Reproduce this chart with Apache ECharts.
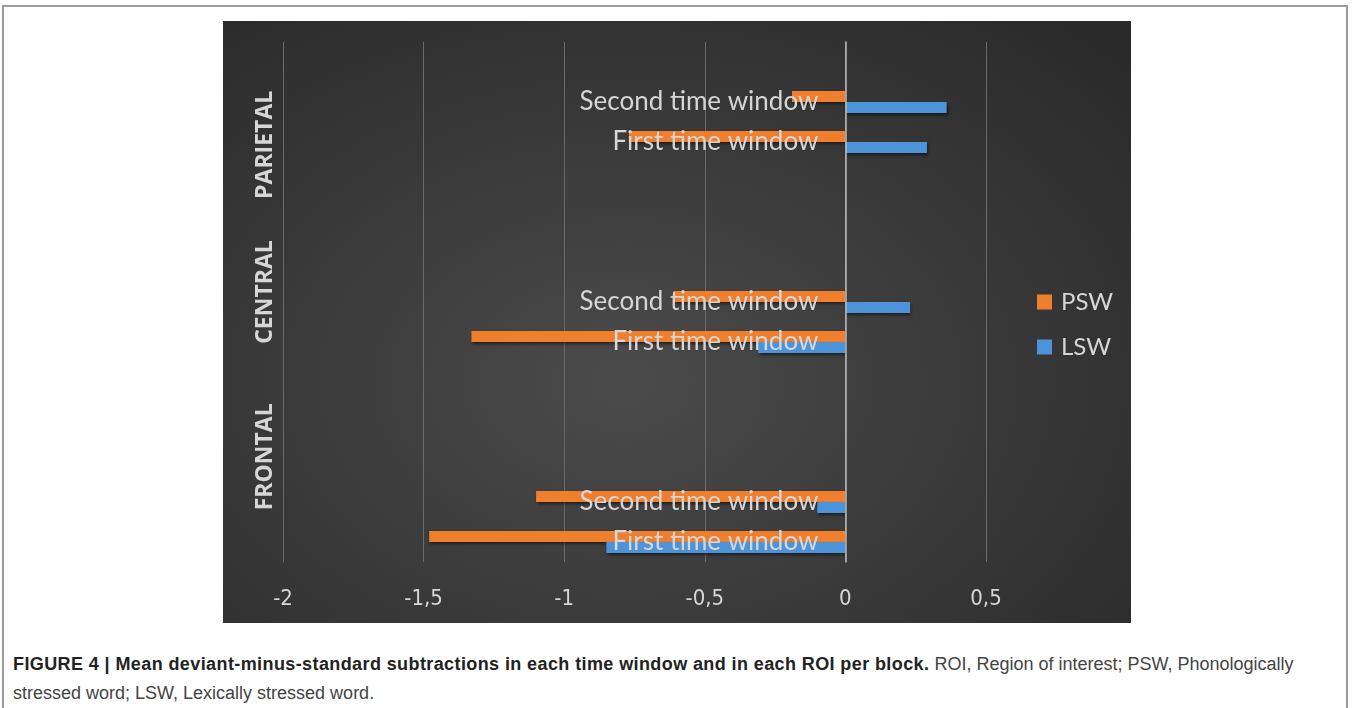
<!DOCTYPE html>
<html>
<head>
<meta charset="utf-8">
<script src="https://cdn.jsdelivr.net/npm/echarts@6/dist/echarts.min.js"></script>
<style>
  html, body { margin: 0; padding: 0; background: #fff; width: 1352px; height: 708px; overflow: hidden; }
  #frame { position: absolute; left: 2px; top: 5px; width: 1346px; height: 740px; border: 2px solid #9c9c9c; box-sizing: border-box; }
  #chart { position: absolute; left: 223px; top: 21px; width: 908px; height: 602px;
    background: radial-gradient(ellipse 75% 80% at 44% 60%, #4b4b4b 0%, #3c3c3c 45%, #2a2a2a 100%); }
  #caption { position: absolute; left: 13px; top: 650px; width: 1330px; font-family: "Liberation Sans", Arial, sans-serif;
    font-size: 18px; line-height: 29px; color: #444; white-space: nowrap; }
  #caption b { color: #222; letter-spacing: 0.4px; }
</style>
</head>
<body>
<div id="frame"></div>
<div id="chart"></div>
<div id="caption"><b>FIGURE 4 | Mean deviant-minus-standard subtractions in each time window and in each ROI per block.</b> ROI, Region of interest; PSW, Phonologically<br>stressed word; LSW, Lexically stressed word.</div>
<script>
// Regions of interest, bottom to top, and the two time windows inside each
const regions = ['FRONTAL', 'CENTRAL', 'PARIETAL'];
const windows = ['First time window', 'Second time window'];
// Mean deviant-minus-standard difference per region: [first window, second window]
const pswValues = [[-1.48, -1.10], [-1.33, -0.61], [-0.77, -0.19]];
const lswValues = [[-0.85, -0.10], [-0.31, 0.23], [0.29, 0.36]];
const seriesNames = ['PSW', 'LSW'];

// Each region occupies its two windows followed by empty spacer rows
const categories = [], psw = [], lsw = [];
regions.forEach((r, i) => {
  windows.forEach((w, j) => {
    categories.push(w);
    psw.push(pswValues[i][j]);
    lsw.push(lswValues[i][j]);
  });
  const spacers = i < regions.length - 1 ? 3 : 1;
  for (let k = 0; k < spacers; k++) { categories.push(''); psw.push(null); lsw.push(null); }
});

// Where each region name sits along the row scale (rows counted from the bottom)
const regionLabelAt = [2.63, 6.75, 10.43];

const xMin = -2, xMax = 0.5;
const gridBox = { left: 60, right: 145, top: 21, bottom: 61 };
const chartEl = document.getElementById('chart');
const plotWidth = chartEl.clientWidth - gridBox.left - gridBox.right;
// The category axis crosses the value axis at zero, its labels travel with it
const zeroShift = -plotWidth * (0 - xMin) / (xMax - xMin);

const textColor = '#d6d6d6';
const labelFont = 'Lato, "Open Sans", sans-serif';
const tickFont = '"Liberation Sans Narrow", "DejaVu Sans Condensed", sans-serif';
const barShadow = { shadowColor: 'rgba(0,0,0,0.55)', shadowBlur: 3, shadowOffsetX: 1, shadowOffsetY: 2 };

const chart = echarts.init(chartEl, null, { renderer: 'canvas' });
chart.setOption({
  animation: false,
  backgroundColor: 'transparent',
  grid: Object.assign({ containLabel: false, outerBoundsMode: 'none' }, gridBox),
  legend: {
    orient: 'vertical',
    left: 809,
    top: 264,
    data: seriesNames,
    icon: 'rect',
    itemWidth: 15,
    itemHeight: 15,
    itemGap: 21,
    textStyle: { color: textColor, fontSize: 24, fontFamily: labelFont, padding: [0, 0, 0, 4] }
  },
  xAxis: {
    type: 'value',
    min: xMin,
    max: xMax,
    interval: 0.5,
    axisLine: { show: false },
    axisTick: { show: false },
    splitLine: { show: true, lineStyle: { color: '#6a6a6a', width: 1 } },
    axisLabel: {
      color: textColor, fontSize: 22, fontFamily: tickFont, margin: 26,
      formatter: v => String(v).replace('.', ',')
    }
  },
  yAxis: [
    {
      type: 'category',
      data: categories,
      position: 'left',
      offset: zeroShift,
      z: 10,
      axisLine: { onZero: false, lineStyle: { color: '#bdbdbd', width: 1.5 } },
      axisTick: { show: false },
      splitLine: { show: false },
      axisLabel: { interval: 0, color: textColor, fontSize: 26, fontFamily: labelFont, margin: 27 }
    },
    {
      type: 'value',
      min: 0,
      max: categories.length,
      position: 'left',
      axisLine: { show: true, onZero: false, lineStyle: { color: '#6a6a6a', width: 1 } },
      axisTick: { show: false },
      splitLine: { show: false },
      axisLabel: {
        customValues: regionLabelAt,
        rotate: 90,
        margin: 6,
        color: textColor,
        fontSize: 23,
        fontWeight: 'bold',
        fontFamily: '"Open Sans", Lato, sans-serif',
        formatter: v => {
          const i = regionLabelAt.indexOf(v);
          return i >= 0 ? regions[i] : '';
        }
      }
    }
  ],
  series: [
    {
      name: 'PSW', type: 'bar', data: psw, barGap: '0%', barCategoryGap: '45%',
      itemStyle: Object.assign({ color: '#ef7f2c' }, barShadow)
    },
    {
      name: 'LSW', type: 'bar', data: lsw, barGap: '0%', barCategoryGap: '45%',
      itemStyle: Object.assign({ color: '#4d93da' }, barShadow)
    }
  ]
});
</script>
</body>
</html>
